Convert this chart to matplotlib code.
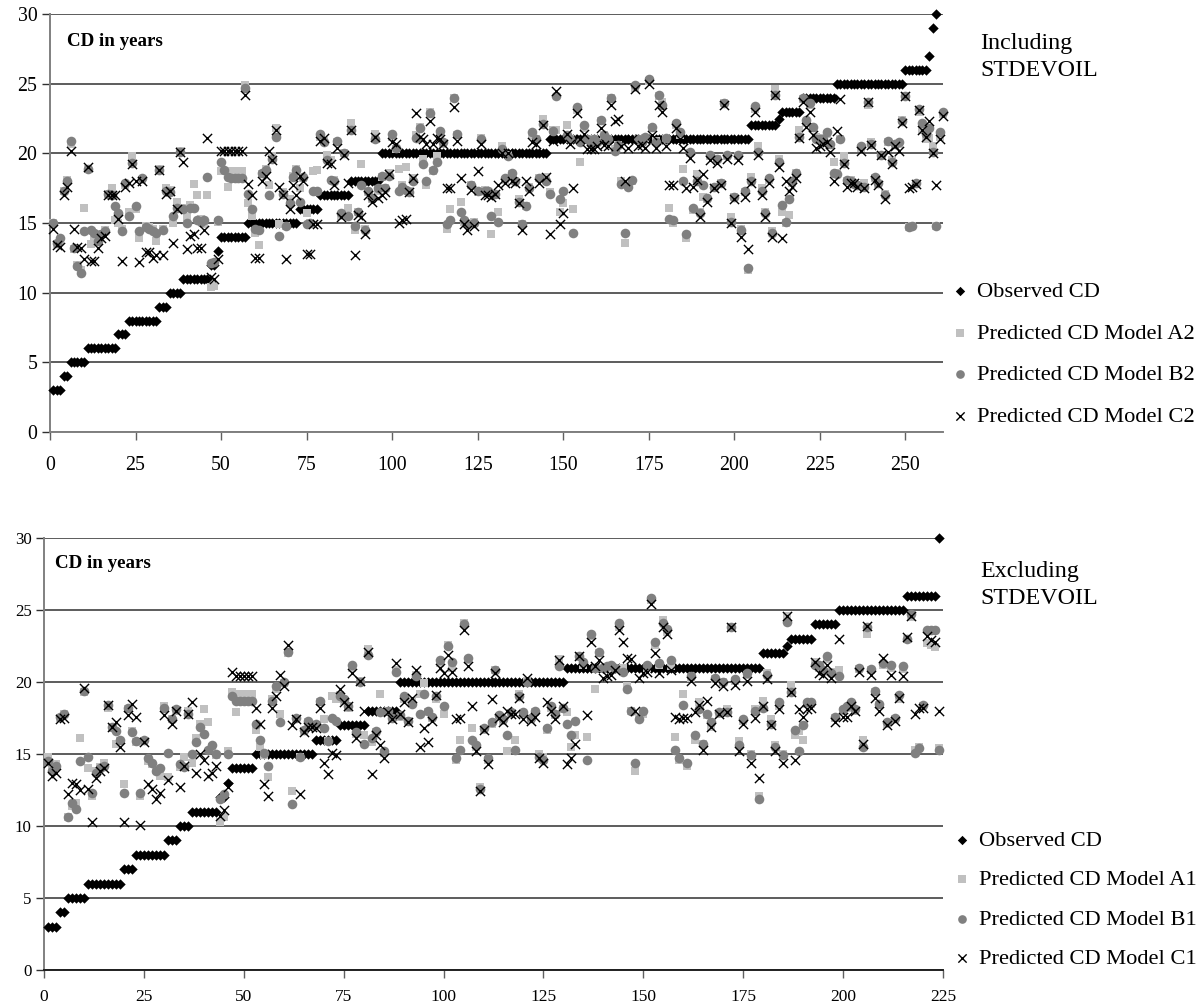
import matplotlib
matplotlib.use("Agg")
import matplotlib.pyplot as plt
import numpy as np

plt.rcParams['font.family'] = ['Liberation Serif', 'DejaVu Serif']

XTICKS = [0, 25, 50, 75, 100, 125, 150, 175, 200, 225, 250]
YTICKS = [0, 5, 10, 15, 20, 25, 30]

# VALUES INCLUDING STDEVOIL
obs2 = [3, 3, 3, 4, 4, 5, 5, 5, 5, 5,
        6, 6, 6, 6, 6, 6, 6, 6, 6, 7,
        7, 7, 8, 8, 8, 8, 8, 8, 8, 8,
        8, 9, 9, 9, 10, 10, 10, 10, 11, 11,
        11, 11, 11, 11, 11, 11, 12, 12, 13, 14,
        14, 14, 14, 14, 14, 14, 14, 15, 15, 15,
        15, 15, 15, 15, 15, 15, 15, 15, 15, 15,
        15, 15, 16, 16, 16, 16, 16, 16, 17, 17,
        17, 17, 17, 17, 17, 17, 17, 18, 18, 18,
        18, 18, 18, 18, 18, 18, 20, 20, 20, 20,
        20, 20, 20, 20, 20, 20, 20, 20, 20, 20,
        20, 20, 20, 20, 20, 20, 20, 20, 20, 20,
        20, 20, 20, 20, 20, 20, 20, 20, 20, 20,
        20, 20, 20, 20, 20, 20, 20, 20, 20, 20,
        20, 20, 20, 20, 20, 21, 21, 21, 21, 21,
        21, 21, 21, 21, 21, 21, 21, 21, 21, 21,
        21, 21, 21, 21, 21, 21, 21, 21, 21, 21,
        21, 21, 21, 21, 21, 21, 21, 21, 21, 21,
        21, 21, 21, 21, 21, 21, 21, 21, 21, 21,
        21, 21, 21, 21, 21, 21, 21, 21, 21, 21,
        21, 21, 21, 21, 22, 22, 22, 22, 22, 22,
        22, 22, 22.5, 23, 23, 23, 23, 23, 23, 24,
        24, 24, 24, 24, 24, 24, 24, 24, 24, 25,
        25, 25, 25, 25, 25, 25, 25, 25, 25, 25,
        25, 25, 25, 25, 25, 25, 25, 25, 25, 26,
        26, 26, 26, 26, 26, 26, 27, 29, 30]
modelA2 = [15, 13.5, 13.7, 17.3, 18.1, 20.7, 13.1, 12, 11.6, 16.1,
           18.9, 13.5, 14, 13.8, 14.2, 14.5, 17.1, 17.5, 15.2, 15,
           14.6, 17.7, 15.8, 19.8, 16, 13.9, 18.1, 14.8, 14.7, 14.6,
           13.7, 18.9, 14.6, 17.5, 17.4, 15, 16.5, 20.2, 16.1, 15.4,
           16.3, 17.8, 17, 15.3, 14.9, 17, 10.4, 10.5, 15.1, 18.7,
           18.7, 17.6, 18.7, 18.7, 18.7, 18.7, 24.9, 16.4, 15.5, 14.3,
           13.4, 18.5, 18.9, 17.7, 19.8, 21.8, 14.9, 17.2, 14.8, 16.7,
           18.4, 18.9, 17.5, 18.2, 15.7, 15, 18.7, 18.8, 21.2, 20.9,
           19.9, 19.5, 18.1, 20.8, 15.5, 20, 16.1, 22.2, 14.5, 15.8,
           19.2, 14.6, 17.2, 16.7, 21.4, 17.3, 18.3, 17.5, 18.6, 21.2,
           20.3, 18.9, 17.7, 19, 17.3, 18.2, 21.3, 21.9, 19.6, 17.7,
           23, 18.7, 19.8, 21.4, 20.7, 14.6, 16, 24, 21.3, 16.5,
           15.1, 15, 17.7, 15.1, 17.2, 21.1, 17.4, 17.2, 14.2, 17,
           15.8, 20.5, 18.1, 19.9, 18.5, 18, 16.7, 14.9, 16.2, 17.6,
           21.3, 21, 18.2, 22.5, 18.3, 17.2, 21.7, 21.7, 15.8, 16.4,
           22, 21, 16, 23.1, 19.4, 21.8, 21, 20.9, 21, 20.8,
           22.3, 21.3, 21, 24, 20.3, 20.6, 18, 13.6, 17.8, 18,
           24.7, 21, 20.9, 21.1, 25.2, 21.8, 20.9, 24.1, 23.7, 21,
           16.1, 15, 22, 21.3, 18.9, 13.9, 20, 15.9, 18.5, 15.8,
           16.9, 16.7, 19.8, 17.5, 19.6, 17.9, 23.6, 19.8, 15.4, 16.9,
           19.8, 14.6, 17.2, 11.6, 18.3, 23.2, 20.5, 17.5, 15.8, 18.1,
           14.4, 24.6, 19.6, 15.8, 15, 15.6, 17.9, 18.6, 21.7, 23.9,
           22.2, 23.5, 21.8, 21.2, 21.1, 21, 21.4, 20.6, 19.4, 18.6,
           21, 19.8, 18, 18.1, 17.9, 17.7, 20.4, 17.9, 23.5, 20.8,
           18.2, 17.8, 19.8, 17.1, 20.8, 19.5, 20.6, 20.7, 22.4, 24.1,
           14.7, 14.8, 17.8, 23, 21.7, 21, 21.1, 20.5, 14.8, 21.2, 22.8]
modelB2 = [15, 13.6, 13.9, 17.3, 18, 20.9, 13.2, 11.9, 11.4, 14.4,
           18.9, 14.5, 14.3, 13.7, 14.2, 14.4, 17.1, 17, 16.2, 15.7,
           14.4, 17.9, 15.5, 19.3, 16.2, 14.4, 18.2, 14.7, 14.6, 14.4,
           14.3, 18.8, 14.5, 17.3, 17.2, 15.5, 16.1, 20.1, 16, 15,
           16.1, 16.1, 15.2, 15.1, 15.2, 18.3, 12.1, 12.2, 15.2, 19.4,
           18.8, 18.3, 18.2, 18.2, 18.2, 18.2, 24.7, 17.1, 16, 14.6,
           14.5, 18.6, 18.8, 17, 19.6, 21.2, 14.1, 17.1, 14.8, 16.4,
           18.3, 18.8, 16.5, 18.3, 14.9, 15, 17.3, 17.3, 21.4, 20.8,
           19.5, 18.1, 18, 20.9, 15.7, 20, 15.5, 21.7, 14.8, 15.8,
           17.7, 14.5, 17.3, 16.8, 21, 17.5, 18.4, 17.5, 18.4, 21.4,
           20.4, 17.3, 17.6, 17.4, 17.2, 18, 21.1, 21.8, 19.2, 18,
           22.9, 18.8, 19.4, 21.6, 20.8, 14.9, 15.2, 24, 21.4, 15.8,
           15.2, 14.9, 17.7, 15, 17.3, 21, 17.3, 17.3, 15.5, 17.1,
           15.1, 20.3, 18.2, 19.8, 18.6, 18, 16.5, 14.9, 16.2, 17.5,
           21.5, 21, 18.2, 22.1, 18, 17.1, 21.6, 24.1, 16.7, 17.3,
           21.3, 21, 14.3, 23.3, 20.8, 22, 21, 20.7, 21, 20.8,
           22.4, 21.3, 21, 24, 20.2, 20.6, 17.8, 14.3, 17.6, 18.1,
           24.9, 21, 20.8, 21.2, 25.3, 21.9, 20.8, 24.2, 23.5, 21.1,
           15.3, 15.2, 22.2, 21.5, 18, 14.2, 20.1, 16.1, 18, 15.7,
           17.7, 16.8, 19.9, 17.6, 19.6, 17.9, 23.6, 19.9, 15.1, 16.9,
           19.9, 14.5, 17.3, 11.8, 18, 23.4, 20.1, 17.3, 15.7, 18.2,
           14.3, 24.2, 19.4, 16.3, 15.1, 16.7, 18, 18.6, 21.2, 24,
           22.4, 23.6, 21.9, 21, 21, 21, 21.5, 20.7, 18.6, 18.5,
           21, 19.3, 18.1, 18, 17.8, 17.7, 20.5, 17.6, 23.7, 20.7,
           18.3, 17.9, 19.9, 17, 20.9, 19.4, 20.7, 20.8, 22.3, 24.1,
           14.7, 14.8, 17.9, 23.2, 22.2, 21.4, 21.8, 20.1, 14.8, 21.5, 23]
modelC2 = [14.6, 13.4, 13.3, 17, 17.6, 20.2, 14.6, 13.3, 13.2, 12.4,
           19, 12.3, 12.3, 13.2, 13.9, 14.1, 17, 17, 17, 15.3,
           12.3, 17.6, 17.9, 19.2, 18, 12.2, 18, 12.9, 12.9, 12.5,
           12.7, 18.8, 12.7, 17.1, 17.3, 13.6, 16, 20.1, 19.4, 13.1,
           14.1, 14.2, 13.2, 13.2, 14.5, 21.1, 11.1, 11, 12.4, 20.2,
           20.2, 20.2, 20.2, 20.2, 20.2, 20.2, 24.2, 17.8, 17, 12.5,
           12.5, 18, 18.4, 20.2, 19.5, 21.7, 17.6, 17, 12.4, 16,
           17.7, 17, 18.4, 18, 12.8, 12.8, 14.9, 14.9, 20.9, 21.1,
           19.3, 19.2, 17.7, 20.4, 15.4, 19.9, 17.9, 21.7, 12.7, 15.6,
           15.4, 14.2, 17, 16.5, 21.2, 16.8, 17, 17.2, 18.5, 20.8,
           20.7, 15, 15.2, 15.3, 17.2, 18.2, 22.9, 21.2, 21, 20.7,
           22.3, 20.7, 21.1, 21, 20.7, 17.5, 17.5, 23.3, 20.9, 18.2,
           14.9, 14.5, 17.4, 14.8, 18.7, 20.7, 17, 17, 16.9, 17.1,
           17.7, 20, 17.9, 20, 18, 17.9, 16.4, 14.5, 18, 17.3,
           20.8, 20.7, 17.9, 22, 18.3, 14.2, 20.9, 24.5, 14.9, 15.7,
           21.4, 20.7, 17.5, 22.9, 21, 21.4, 20.3, 20.3, 20.3, 20.5,
           21.8, 20.6, 20.5, 23.5, 22.3, 22.5, 20.5, 18, 20.4, 21,
           24.6, 20.5, 20.6, 20.4, 25, 21.3, 20.4, 23.5, 23, 20.5,
           17.7, 17.7, 21.8, 21, 20.4, 17.5, 19.7, 17.6, 18.1, 15.4,
           18.5, 16.5, 19.5, 17.5, 19.3, 17.7, 23.5, 19.6, 15, 16.7,
           19.5, 14, 16.9, 13.1, 17.9, 23, 19.9, 17, 15.4, 17.9,
           14, 24.2, 19, 13.9, 18, 17.3, 17.6, 18.2, 21.1, 23.7,
           21.9, 23, 21.3, 20.4, 20.5, 20.7, 20.8, 20.1, 18, 21.6,
           23.9, 19.2, 17.6, 17.9, 17.9, 17.6, 20.2, 17.5, 23.7, 20.6,
           18.1, 17.7, 19.9, 16.7, 20.1, 19.2, 20.5, 20.2, 22.2, 24.1,
           17.5, 17.6, 17.8, 23.1, 21.7, 21.2, 22.3, 20, 17.7, 21, 22.7]

# VALUES EXCLUDING STDEVOIL
obs1 = [3, 3, 3, 4, 4, 5, 5, 5, 5, 5,
        6, 6, 6, 6, 6, 6, 6, 6, 6, 7,
        7, 7, 8, 8, 8, 8, 8, 8, 8, 8,
        9, 9, 9, 10, 10, 10, 11, 11, 11, 11,
        11, 11, 11, 12, 12, 13, 14, 14, 14, 14,
        14, 14, 15, 15, 15, 15, 15, 15, 15, 15,
        15, 15, 15, 15, 15, 15, 15, 16, 16, 16,
        16, 16, 16, 17, 17, 17, 17, 17, 17, 17,
        18, 18, 18, 18, 18, 18, 18, 18, 20, 20,
        20, 20, 20, 20, 20, 20, 20, 20, 20, 20,
        20, 20, 20, 20, 20, 20, 20, 20, 20, 20,
        20, 20, 20, 20, 20, 20, 20, 20, 20, 20,
        20, 20, 20, 20, 20, 20, 20, 20, 20, 20,
        21, 21, 21, 21, 21, 21, 21, 21, 21, 21,
        21, 21, 21, 21, 21, 21, 21, 21, 21, 21,
        21, 21, 21, 21, 21, 21, 21, 21, 21, 21,
        21, 21, 21, 21, 21, 21, 21, 21, 21, 21,
        21, 21, 21, 21, 21, 21, 21, 21, 21, 22,
        22, 22, 22, 22, 22, 22.5, 23, 23, 23, 23,
        23, 23, 24, 24, 24, 24, 24, 24, 25, 25,
        25, 25, 25, 25, 25, 25, 25, 25, 25, 25,
        25, 25, 25, 25, 25, 26, 26, 26, 26, 26,
        26, 26, 26, 30]
modelA1 = [14.8, 13.9, 14.3, 17.5, 17.8, 10.6, 11.4, 11.6, 16.1, 19.3,
           14, 12.1, 13.8, 14.1, 14.4, 18.2, 16.8, 15.7, 15.9, 12.9,
           18.1, 16.6, 15.8, 12.1, 15.9, 14.5, 14.3, 13.9, 13.5, 18.3,
           13.4, 17.4, 18, 14.1, 14.8, 18, 14.4, 16.1, 17.1, 18.1,
           17.2, 15.5, 14.9, 10.3, 10.6, 15.2, 19.3, 17.9, 19.2, 19.2,
           19.2, 19.2, 16.7, 15.5, 14.9, 13.4, 18.8, 19.5, 17.8, 19.9,
           22, 12.4, 17.4, 14.8, 16.6, 17.2, 17, 17, 18.6, 17.4,
           15.9, 19, 18.8, 19.1, 18.7, 18.2, 21, 16.4, 20.1, 16.3,
           22.3, 15.8, 16.5, 19.2, 15.1, 18, 17.4, 20.8, 17.6, 18.8,
           17.3, 18.7, 20.5, 19.2, 19.9, 17.9, 17.5, 18.8, 21.3, 17.8,
           22.6, 21, 14.6, 16, 24.1, 21.5, 16.8, 15.5, 12.7, 16.7,
           14.6, 17.1, 20.8, 17.6, 17.3, 15.2, 17.8, 16, 19.2, 17.8,
           20.1, 17.4, 17.9, 15, 14.8, 16.7, 18.2, 17.7, 21.6, 18.1,
           17.9, 15.5, 16.3, 21.8, 21.2, 16.2, 23.2, 19.5, 22, 21,
           21, 21, 20.9, 23.8, 21, 19.7, 18, 13.8, 17.6, 17.8,
           21, 25.7, 22.6, 21.2, 24.3, 23.5, 21.1, 16.2, 14.6, 19.2,
           14.2, 20.3, 16, 18.6, 15.7, 17.7, 16.9, 20.2, 17.8, 20,
           18.1, 23.8, 20.1, 15.9, 17.3, 20.5, 15, 18.1, 12.1, 18.7,
           20.6, 17.4, 15.6, 18.3, 15, 24.6, 19.8, 16.3, 16.6, 16,
           18.5, 18.5, 21.4, 21, 20.7, 21.6, 20.7, 17.5, 20.8, 18,
           18.2, 18.5, 18, 20.9, 16, 23.3, 20.8, 19.3, 18.4, 21.2,
           17.1, 21, 17.4, 18.8, 20.9, 23, 24.5, 15.3, 15.5, 18.3,
           22.7, 22.6, 22.4, 15.4]
modelB1 = [14.5, 13.8, 14.2, 17.6, 17.8, 10.6, 11.6, 11.2, 14.5, 19.4,
           14.8, 12.3, 13.7, 14, 14.2, 18.4, 16.9, 16.6, 16, 12.3,
           18.2, 16.5, 15.9, 12.3, 16, 14.7, 14.4, 13.8, 14, 18.2,
           15.1, 17.4, 18.1, 14.3, 14.1, 17.8, 15, 15.8, 16.9, 16.4,
           15.3, 15.6, 15, 11.9, 12.2, 15, 19, 18.7, 18.7, 18.7,
           18.7, 18.7, 17.1, 16, 15.1, 14.2, 18.7, 19.7, 17.2, 20,
           22.1, 11.5, 17.5, 14.8, 16.7, 17.3, 17, 17.1, 18.7, 16.8,
           15.9, 17.5, 17.3, 19, 18.8, 18.3, 21.2, 16.5, 20, 15.7,
           21.9, 16.1, 16.6, 17.9, 15.2, 18, 17.5, 20.7, 17.7, 19,
           17.3, 18.5, 20.4, 17.8, 19.2, 18, 17.6, 19, 21.5, 18.3,
           22.5, 21.4, 14.7, 15.3, 24, 21.7, 16, 15.6, 12.6, 16.8,
           14.7, 17.2, 20.8, 17.7, 17.4, 16.3, 17.9, 15.3, 19, 17.9,
           20, 17.5, 18, 14.8, 14.6, 16.8, 18.3, 17.8, 21.1, 18.2,
           17.1, 16.3, 17.3, 21.8, 21.4, 14.6, 23.3, 21, 22.1, 21,
           21.1, 21.2, 21, 24.1, 20.7, 19.5, 18, 14.4, 17.4, 18,
           21.2, 25.8, 22.8, 21.3, 24.1, 23.7, 21.5, 15.3, 14.7, 18.4,
           14.4, 20.4, 16.3, 18.1, 15.7, 17.8, 17.2, 20.3, 17.9, 20,
           17.9, 23.8, 20.2, 15.6, 17.4, 20.6, 14.9, 18, 11.9, 18.2,
           20.5, 17.1, 15.5, 18.6, 14.9, 24.2, 19.3, 16.7, 15.2, 17,
           18.6, 18.6, 21.2, 21.2, 20.8, 21.8, 20.6, 17.6, 20.4, 18.1,
           18.3, 18.6, 18.1, 21, 15.5, 23.8, 20.9, 19.4, 18.5, 21.3,
           17.2, 21.2, 17.5, 19.1, 21.1, 23, 24.7, 15.1, 15.4, 18.4,
           23.6, 23.6, 23.6, 15.3]
modelC1 = [14.4, 13.5, 13.7, 17.4, 17.5, 12.2, 13, 12.9, 12.5, 19.6,
           12.6, 10.3, 13.3, 13.8, 14, 18.4, 16.9, 17.2, 15.5, 10.3,
           17.7, 18.5, 17.6, 10.1, 15.8, 12.9, 12.6, 11.9, 12.3, 17.7,
           13.2, 17.1, 18, 12.7, 14.2, 17.8, 18.6, 13.7, 15, 14.6,
           13.5, 13.7, 14.2, 10.7, 11.1, 12.7, 20.7, 20.4, 20.4, 20.4,
           20.4, 20.4, 18.2, 17.1, 12.9, 12.1, 18.2, 19, 20.5, 19.7,
           22.6, 17, 17.4, 12.2, 16.5, 16.9, 16.9, 16.8, 18.2, 14.4,
           13.6, 15.1, 14.9, 19.5, 18.6, 18.3, 20.6, 16.1, 20.1, 18,
           22.1, 13.6, 16.3, 15.6, 14.7, 17.9, 17.4, 21.3, 17.8, 18.6,
           17.2, 18.9, 20.8, 15.5, 16.8, 15.8, 17.3, 19.1, 21, 20.6,
           21.9, 20.7, 17.4, 17.5, 23.6, 21.1, 18.3, 15.2, 12.4, 16.7,
           14.3, 18.8, 20.6, 17.5, 17.2, 18, 17.8, 17.8, 18.9, 17.4,
           20.3, 17.3, 17.6, 14.7, 14.4, 18.6, 18, 17.4, 21.5, 18.3,
           14.3, 14.7, 15.7, 21.8, 21, 17.7, 22.8, 21.1, 21.5, 20.3,
           20.4, 20.5, 20.8, 23.6, 22.8, 21.7, 21.6, 18, 20.3, 20.6,
           20.7, 25.4, 22, 20.6, 23.8, 23.3, 20.8, 17.6, 17.4, 17.5,
           17.5, 20.1, 17.9, 18.4, 15.3, 18.7, 16.9, 19.9, 17.8, 19.7,
           17.9, 23.8, 19.8, 15.2, 17.1, 20.1, 14.4, 17.5, 13.3, 18.3,
           20.2, 17, 15.2, 18.1, 14.4, 24.6, 19.3, 14.6, 18.1, 17.6,
           18.1, 18.2, 21.4, 20.6, 20.5, 21.2, 20.3, 17.2, 23, 17.6,
           17.6, 18.3, 18, 20.7, 15.7, 23.9, 20.5, 18.9, 18, 21.7,
           17, 20.5, 17.3, 18.9, 20.4, 23.1, 24.6, 17.8, 18.2, 18.2,
           23.2, 22.9, 22.8, 18]

W = 1203.
H = 1008.
LEGFONT = 16.2


def Display(box, xmax, xlast, obs, ya, yb, yc, names, legxy, legstep, text, textxy, cdxy, xfont, yfont, xpad, botcolor):
    left, top, right, bottom = box
    ax = fig.add_axes([left/W, 1-bottom/H, (right-left)/W, (bottom-top)/H])
    h = []
    h.append(ax.scatter(np.arange(1, len(obs)+1), obs, marker='D', s=28, c='black', linewidths=0, clip_on=False, zorder=3))
    h.append(ax.scatter(np.arange(1, len(ya)+1), ya, marker='s', s=36, c='#c0c0c0', linewidths=0, clip_on=False, zorder=4))
    h.append(ax.scatter(np.arange(1, len(yb)+1), yb, marker='o', s=48, c='#808080', linewidths=0, clip_on=False, zorder=5))
    h.append(ax.scatter(np.arange(1, len(yc)+1), yc, marker='x', s=44, c='black', linewidths=1.0, clip_on=False, zorder=6))
    ax.set_xlim(0, xmax)
    ax.set_ylim(0, 30)
    ax.set_xticks([t for t in XTICKS if t <= xlast])
    ax.set_yticks(YTICKS)
    ax.tick_params(axis='x', labelsize=xfont, length=6, width=1, color='#606060', pad=xpad)
    ax.tick_params(axis='y', labelsize=yfont, length=6, width=1, color='#303030', pad=3)
    ax.yaxis.grid(True, color='#303030', linewidth=1.1)
    ax.set_axisbelow(True)
    for s in ['top', 'right']:
        ax.spines[s].set_visible(False)
    ax.spines['left'].set_color('#808080')
    ax.spines['left'].set_linewidth(1.4)
    ax.spines['bottom'].set_color(botcolor)
    ax.spines['bottom'].set_linewidth(1.4)
    fig.text(cdxy[0]/W, 1-cdxy[1]/H, "CD in years", fontsize=13.7, fontweight='bold', va='center')
    fig.text(textxy[0]/W, 1-textxy[1]/H, text, fontsize=17.3, va='center', linespacing=1.35)
    fontpx = LEGFONT*100/72
    fig.legend(h, names, loc='upper left', bbox_to_anchor=(legxy[0]/W, 1-legxy[1]/H), frameon=False,
               fontsize=LEGFONT, labelspacing=(legstep-0.92*fontpx)/fontpx, handlelength=1, handletextpad=0.23,
               borderpad=0, borderaxespad=0, scatterpoints=1, markerscale=0.9)


fig = plt.figure(figsize=(W/100, H/100), dpi=100)
Display((50, 14, 943, 432), 261, 250, obs2, modelA2, modelB2, modelC2,
        ["Observed CD", "Predicted CD Model A2", "Predicted CD Model B2", "Predicted CD Model C2"],
        (949, 281.5), 41.5, "Including\nSTDEVOIL", (980, 57), (67, 41), 14.3, 14.3, 11, '#808080')
Display((44, 538, 943, 970), 225, 225, obs1, modelA1, modelB1, modelC1,
        ["Observed CD", "Predicted CD Model A1", "Predicted CD Model B1", "Predicted CD Model C1"],
        (951, 830), 39.5, "Excluding\nSTDEVOIL", (980, 585), (55, 563), 12.5, 12.2, 7.5, '#202020')
fig.savefig("out.png", dpi=100)
plt.close()
